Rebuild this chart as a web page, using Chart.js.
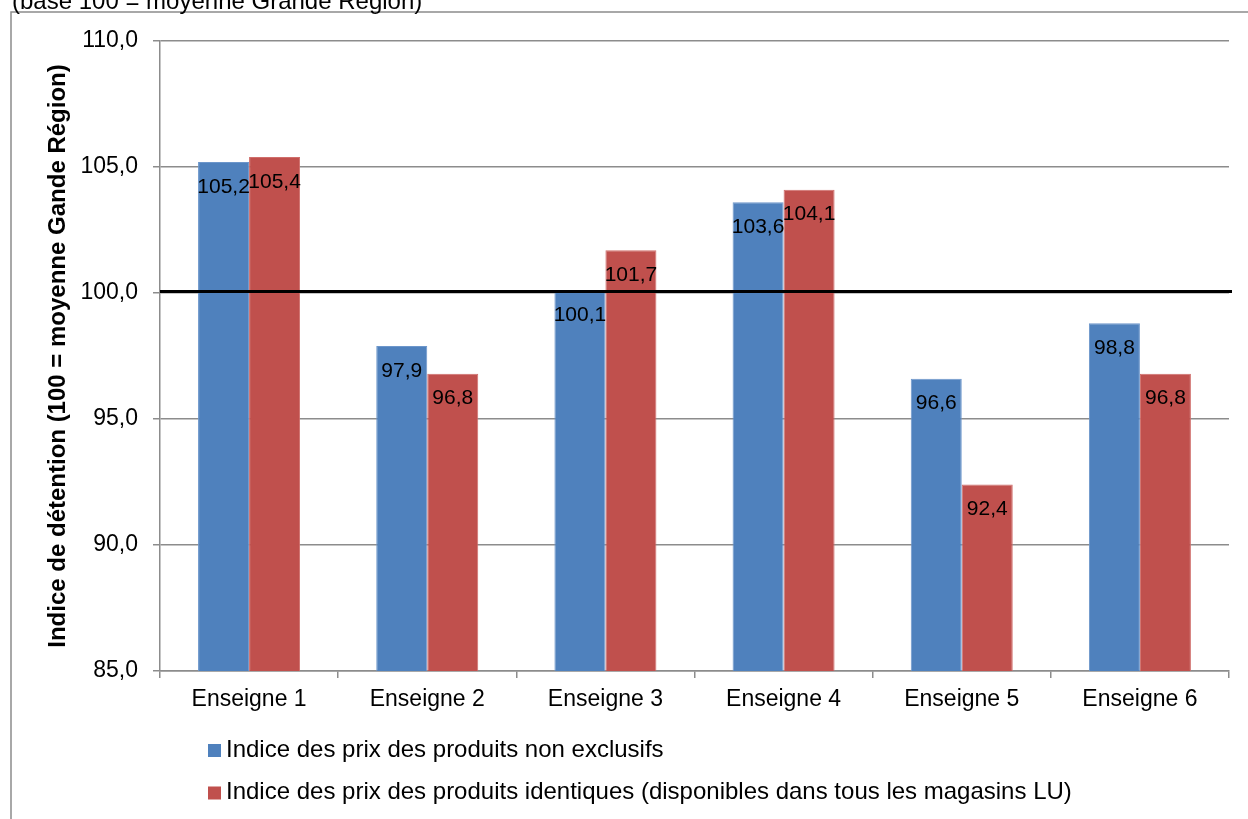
<!DOCTYPE html>
<html>
<head>
<meta charset="utf-8">
<script src="https://cdn.jsdelivr.net/npm/chart.js@4"></script>
<style>
  html, body { margin: 0; padding: 0; background: #fff; }
  #wrap { width: 1248px; height: 819px; }
</style>
</head>
<body>
<div id="wrap"><canvas id="chart" width="1248" height="819"></canvas></div>
<script>
const FONT = "'Liberation Sans', Arial, sans-serif";

const enseignes = ["Enseigne 1", "Enseigne 2", "Enseigne 3", "Enseigne 4", "Enseigne 5", "Enseigne 6"];
const nonExclusifs = [105.2, 97.9, 100.1, 103.6, 96.6, 98.8];
const identiques = [105.4, 96.8, 101.7, 104.1, 92.4, 96.8];
const seriesNames = [
    "Indice des prix des produits non exclusifs",
    "Indice des prix des produits identiques (disponibles dans tous les magasins LU)"
];
const reference = 100;
const yMin = 85, yMax = 110, yStep = 5;

function fr(v) {
    return v.toFixed(1).replace(".", ",");
}

// frame, heading, base-100 line, value labels and legend
const decorations = {
    id: "decorations",
    beforeDraw(chart) {
        const ctx = chart.ctx;
        ctx.save();
        ctx.fillStyle = "#fff";
        ctx.fillRect(0, 0, chart.width, chart.height);
        ctx.strokeStyle = "#8c8c8c";
        ctx.lineWidth = 1.5;
        ctx.beginPath();
        ctx.moveTo(11, chart.height + 2);
        ctx.lineTo(11, 12);
        ctx.lineTo(chart.width + 2, 12);
        ctx.stroke();
        ctx.fillStyle = "#000";
        ctx.font = "24px " + FONT;
        ctx.textBaseline = "alphabetic";
        ctx.fillText("(base 100 = moyenne Grande Région)", 12, 8.5);
        ctx.restore();
    },
    afterDatasetsDraw(chart) {
        const ctx = chart.ctx, area = chart.chartArea;
        const y = chart.scales.y.getPixelForValue(reference) - 1.5;
        ctx.save();
        ctx.strokeStyle = "#000";
        ctx.lineWidth = 3;
        ctx.beginPath();
        ctx.moveTo(area.left, y);
        ctx.lineTo(area.right + 3, y);
        ctx.stroke();

        ctx.fillStyle = "#000";
        ctx.font = "21px " + FONT;
        ctx.textAlign = "center";
        ctx.textBaseline = "middle";
        chart.data.datasets.forEach((ds, i) => {
            chart.getDatasetMeta(i).data.forEach((bar, j) => {
                ctx.fillText(fr(ds.data[j]), bar.x, bar.y + 25);
            });
        });

        // legend, one series per row
        ctx.textAlign = "left";
        ctx.font = "24px " + FONT;
        chart.data.datasets.forEach((ds, i) => {
            const cy = 750 + i * 42.5;
            ctx.fillStyle = ds.backgroundColor;
            ctx.fillRect(208, cy - 6, 13, 13);
            ctx.fillStyle = "#000";
            ctx.fillText(ds.label, 226, cy);
        });
        ctx.restore();
    }
};

const ctx = document.querySelector("#chart");
new Chart(ctx, {
    type: "bar",
    data: {
        labels: enseignes,
        datasets: [
            {label: seriesNames[0], data: nonExclusifs, backgroundColor: "#4f81bd", borderColor: "#6c96cb", borderWidth: 1},
            {label: seriesNames[1], data: identiques, backgroundColor: "#c0504d", borderColor: "#d06e6b", borderWidth: 1}
        ]
    },
    options: {
        responsive: false,
        animation: false,
        devicePixelRatio: 1,
        layout: {padding: {top: 41, right: 19, bottom: 0, left: 0}},
        datasets: {bar: {categoryPercentage: 0.5725, barPercentage: 1}},
        plugins: {
            legend: {display: false},
            tooltip: {enabled: false}
        },
        scales: {
            x: {
                grid: {drawOnChartArea: false, drawTicks: true, tickLength: 7, color: "#8c8c8c", lineWidth: 1.5},
                border: {color: "#8c8c8c", width: 1.5},
                ticks: {color: "#000", font: {family: FONT, size: 23}, padding: 8, maxRotation: 0},
                afterFit(scale) { scale.height = 148; }
            },
            y: {
                min: yMin,
                max: yMax,
                grid: {color: "#8c8c8c", lineWidth: 1.5, tickLength: 7},
                border: {color: "#8c8c8c", width: 1.5},
                ticks: {
                    stepSize: yStep,
                    color: "#000",
                    font: {family: FONT, size: 23},
                    padding: 15,
                    callback: v => fr(v)
                },
                title: {
                    display: true,
                    text: "Indice de détention (100 = moyenne Gande Région)",
                    color: "#000",
                    font: {family: FONT, size: 24, weight: "bold"},
                    padding: {top: 44, bottom: 0}
                },
                afterFit(scale) { scale.width = 160; }
            }
        }
    },
    plugins: [decorations]
});
</script>
</body>
</html>
